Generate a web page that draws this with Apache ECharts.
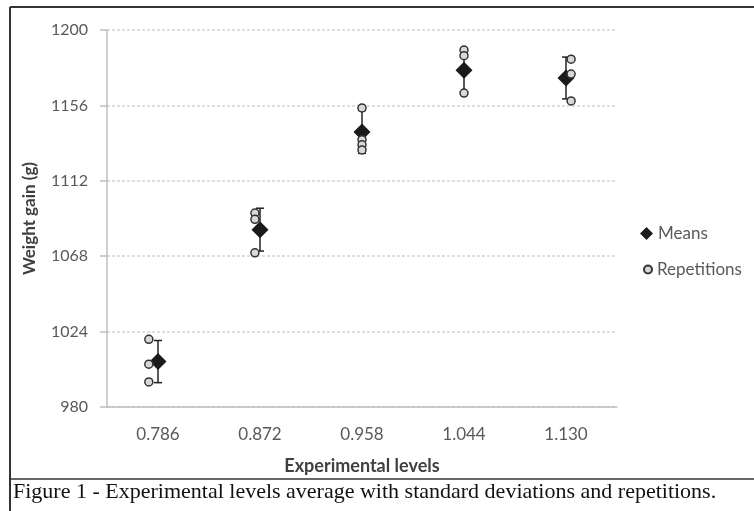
<!DOCTYPE html>
<html>
<head>
<meta charset="utf-8">
<script src="https://cdn.jsdelivr.net/npm/echarts@6/dist/echarts.min.js"></script>
<style>html,body{margin:0;padding:0;background:#fff;}#c{width:754px;height:511px;}</style>
</head>
<body>
<div id="c"></div>
<script>
const levels = ['0.786', '0.872', '0.958', '1.044', '1.130'];
const means = [1006.5, 1083.5, 1140.5, 1176.5, 1172];
const sds = [12.3, 12.5, 12.5, 13, 12.2];
const reps = [
  [1019.5, 1005, 994.6],
  [1093.2, 1089.5, 1070],
  [1154.5, 1136, 1133, 1130],
  [1188.3, 1185, 1163.2],
  [1183, 1174.3, 1158.6]
];
const repJitter = [-0.09, -0.05, 0, 0, 0.05];
const yTicks = [980, 1024, 1068, 1112, 1156, 1200];

const repData = [];
reps.forEach((arr, i) => arr.forEach(v => repData.push([i + repJitter[i], v])));
const errData = means.map((m, i) => [i, m - sds[i], m + sds[i]]);

const chart = echarts.init(document.getElementById('c'), null, {renderer: 'canvas'});
const labelColor = '#595959';
const legendText = {color: labelColor, fontFamily: 'Lato', fontSize: 17};
chart.setOption({
  animation: false,
  backgroundColor: '#fff',
  grid: {left: 107, right: 137, top: 30, bottom: 104},
  legend: [{
    left: 635, top: 220, itemWidth: 13, itemHeight: 13, itemGap: 4,
    textStyle: legendText,
    data: [{name: 'Means', icon: 'diamond'}]
  }, {
    left: 638, top: 256, itemWidth: 8, itemHeight: 8, itemGap: 7,
    textStyle: legendText,
    data: [{name: 'Repetitions', icon: 'circle'}]
  }],
  xAxis: [{
    type: 'category', data: levels, boundaryGap: true,
    name: 'Experimental levels', nameLocation: 'middle', nameGap: 50,
    nameTextStyle: {color: '#404040', fontFamily: 'Lato', fontSize: 18, fontWeight: 'bold'},
    axisLine: {lineStyle: {color: '#bfbfbf', width: 1.5}},
    axisTick: {lineStyle: {color: '#bfbfbf', width: 1.5}, length: 7},
    axisLabel: {color: labelColor, fontFamily: 'Lato', fontSize: 17, margin: 19}
  }, {
    type: 'value', min: -0.5, max: 4.5, show: false
  }],
  yAxis: {
    type: 'value', min: yTicks[0], max: yTicks[yTicks.length - 1], interval: 44,
    name: 'Weight gain (g)', nameLocation: 'middle', nameGap: 69, nameRotate: 90,
    nameTextStyle: {color: '#404040', fontFamily: 'Lato', fontSize: 17, fontWeight: 'bold'},
    axisLine: {show: true, onZero: false, lineStyle: {color: '#bfbfbf', width: 1.5}},
    axisTick: {show: true, inside: false, length: 7, lineStyle: {color: '#bfbfbf', width: 1.5}},
    axisLabel: {color: labelColor, fontFamily: 'Lato', fontSize: 16, margin: 19, formatter: v => String(v)},
    splitLine: {lineStyle: {color: '#d4d4d4', type: [3, 2], width: 1.5}}
  },
  series: [{
    type: 'custom', xAxisIndex: 0, z: 2, silent: true,
    data: errData,
    renderItem: function (params, api) {
      const lo = api.coord([api.value(0), api.value(1)]);
      const hi = api.coord([api.value(0), api.value(2)]);
      const cw = 4;
      const st = {stroke: '#222', lineWidth: 1.5};
      return {type: 'group', children: [
        {type: 'line', shape: {x1: hi[0], y1: hi[1], x2: lo[0], y2: lo[1]}, style: st},
        {type: 'line', shape: {x1: hi[0] - cw, y1: hi[1], x2: hi[0] + cw, y2: hi[1]}, style: st},
        {type: 'line', shape: {x1: lo[0] - cw, y1: lo[1], x2: lo[0] + cw, y2: lo[1]}, style: st}
      ]};
    }
  }, {
    name: 'Means', type: 'scatter', xAxisIndex: 0, z: 3,
    symbol: 'diamond', symbolSize: 17,
    itemStyle: {color: '#1a1a1a', opacity: 1},
    data: means
  }, {
    name: 'Repetitions', type: 'scatter', xAxisIndex: 1, z: 4,
    symbol: 'circle', symbolSize: 8,
    itemStyle: {color: '#d8d8d8', borderColor: '#333', borderWidth: 1.5, opacity: 1},
    data: repData
  }],
  graphic: [
    {type: 'line', shape: {x1: 10, y1: 7, x2: 754, y2: 7}, style: {stroke: '#333', lineWidth: 2}},
    {type: 'line', shape: {x1: 10, y1: 7, x2: 10, y2: 511}, style: {stroke: '#333', lineWidth: 2}},
    {type: 'line', shape: {x1: 10, y1: 479, x2: 754, y2: 479}, style: {stroke: '#333', lineWidth: 1.5}},
    {type: 'text', left: 13, top: 481, style: {text: 'Figure 1 - Experimental levels average with standard deviations and repetitions.', fill: '#111', font: '22px "Liberation Serif"'}}
  ]
});
</script>
</body>
</html>
